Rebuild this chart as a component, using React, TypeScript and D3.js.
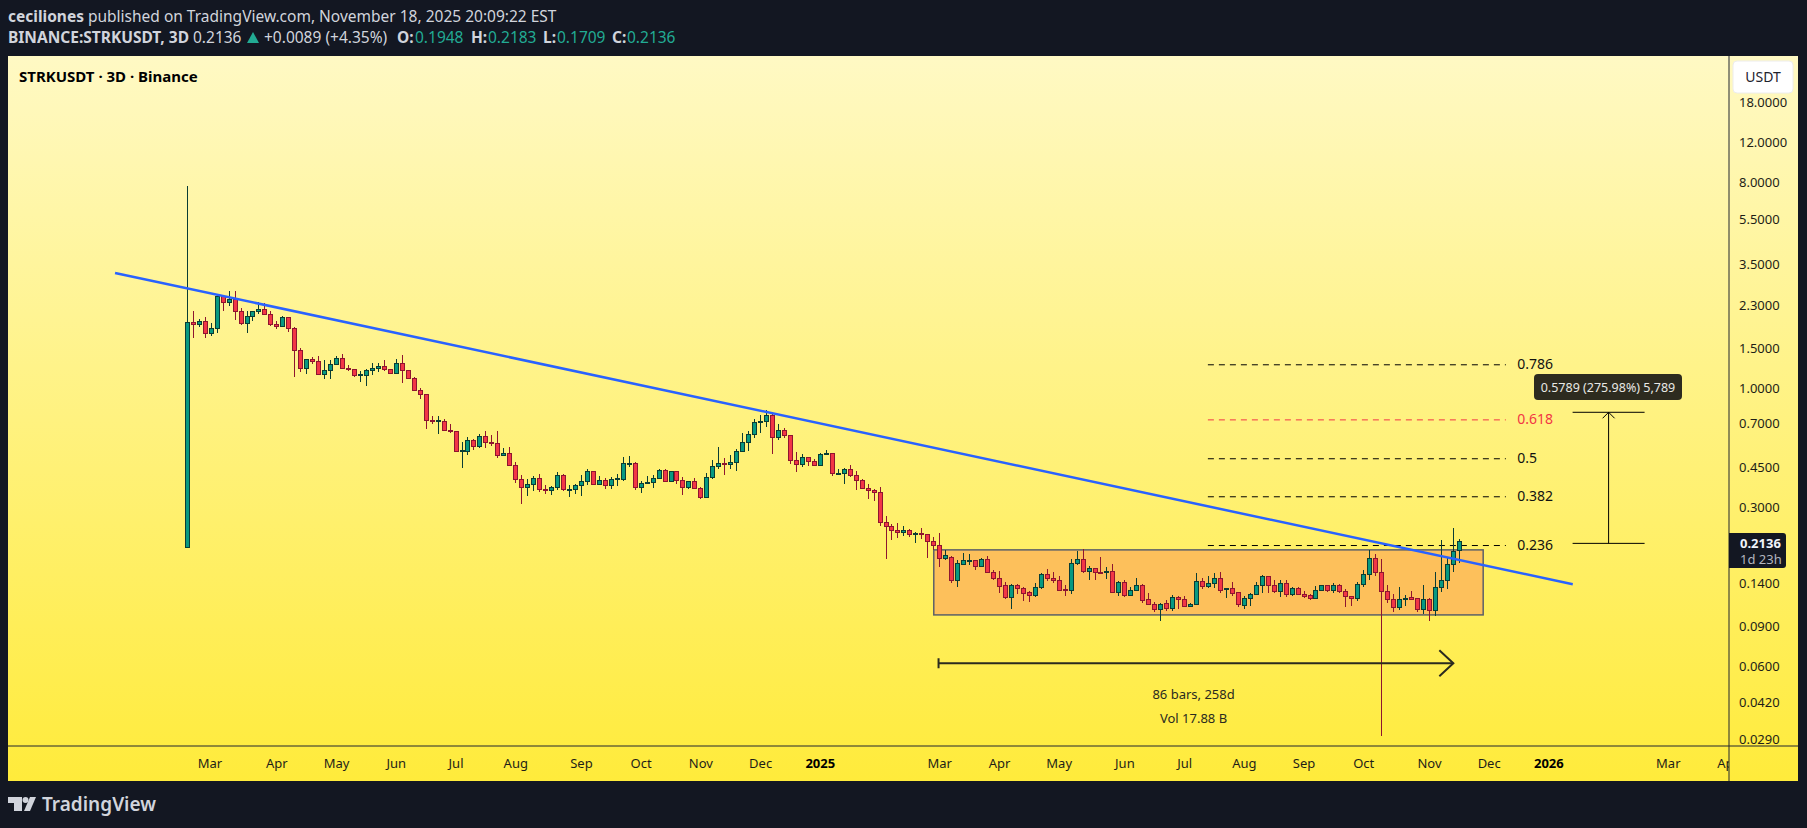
import * as d3 from "d3";
import React from "react";

const width = 1807;
const height = 828;

// 3D bars, index 0 is the listing candle
const opens = [
  0.201, 1.95, 1.9, 1.97, 1.74, 1.82, 2.53, 2.38, 2.46, 2.18,
  1.93, 2.07, 2.18, 2.22, 2.11, 1.91, 1.87, 2.05, 1.82, 1.47,
  1.22, 1.34, 1.31, 1.15, 1.2, 1.27, 1.35, 1.22, 1.21, 1.135,
  1.14, 1.2, 1.22, 1.25, 1.21, 1.165, 1.29, 1.2, 1.105, 0.98,
  0.935, 0.724, 0.714, 0.717, 0.654, 0.648, 0.532, 0.529, 0.591, 0.557,
  0.617, 0.58, 0.575, 0.508, 0.518, 0.46, 0.4, 0.368, 0.379, 0.404,
  0.36, 0.357, 0.368, 0.415, 0.358, 0.361, 0.376, 0.391, 0.432, 0.379,
  0.395, 0.376, 0.399, 0.4, 0.467, 0.469, 0.368, 0.383, 0.387, 0.404,
  0.436, 0.391, 0.432, 0.395, 0.368, 0.391, 0.364, 0.333, 0.408, 0.455,
  0.47, 0.464, 0.474, 0.529, 0.58, 0.629, 0.71, 0.717, 0.762, 0.61,
  0.654, 0.623, 0.484, 0.464, 0.495, 0.478, 0.461, 0.517, 0.518, 0.423,
  0.423, 0.441, 0.413, 0.395, 0.364, 0.357, 0.35, 0.258, 0.249, 0.238,
  0.234, 0.238, 0.229, 0.232, 0.229, 0.213, 0.205, 0.179, 0.182, 0.143,
  0.169, 0.174, 0.175, 0.1655, 0.178, 0.156, 0.147, 0.136, 0.121, 0.137,
  0.133, 0.127, 0.123, 0.134, 0.152, 0.147, 0.143, 0.131, 0.13, 0.171,
  0.178, 0.157, 0.162, 0.156, 0.155, 0.158, 0.1275, 0.141, 0.1235, 0.13,
  0.137, 0.119, 0.113, 0.1075, 0.114, 0.108, 0.121, 0.119, 0.111, 0.113,
  0.142, 0.135, 0.14, 0.147, 0.131, 0.132, 0.127, 0.1115, 0.12, 0.125,
  0.136, 0.15, 0.136, 0.129, 0.14, 0.125, 0.133, 0.125, 0.124, 0.1195,
  0.1305, 0.136, 0.13, 0.136, 0.128, 0.122, 0.1195, 0.138, 0.152, 0.18,
  0.156, 0.129, 0.118, 0.109, 0.119, 0.1205, 0.12, 0.1075, 0.118, 0.1065,
  0.134, 0.1435, 0.169, 0.1948,
];
const highs = [
  7.71, 2.18, 2.01, 2.05, 1.93, 2.57, 2.55, 2.66, 2.66, 2.24,
  2.18, 2.18, 2.38, 2.36, 2.18, 1.97, 2.07, 2.06, 1.85, 1.5,
  1.35, 1.37, 1.38, 1.33, 1.33, 1.38, 1.42, 1.27, 1.22, 1.19,
  1.21, 1.29, 1.29, 1.33, 1.22, 1.35, 1.4, 1.2, 1.12, 1.0,
  0.935, 0.756, 0.756, 0.731, 0.7, 0.648, 0.581, 0.61, 0.598, 0.629,
  0.648, 0.623, 0.648, 0.547, 0.553, 0.474, 0.415, 0.4, 0.411, 0.419,
  0.376, 0.372, 0.428, 0.419, 0.376, 0.379, 0.415, 0.441, 0.432, 0.411,
  0.404, 0.408, 0.419, 0.498, 0.505, 0.474, 0.391, 0.411, 0.415, 0.443,
  0.441, 0.432, 0.436, 0.408, 0.393, 0.404, 0.368, 0.424, 0.485, 0.551,
  0.495, 0.508, 0.54, 0.635, 0.648, 0.731, 0.762, 0.8, 0.777, 0.695,
  0.668, 0.623, 0.524, 0.513, 0.498, 0.49, 0.518, 0.534, 0.52, 0.443,
  0.447, 0.46, 0.436, 0.4, 0.379, 0.361, 0.368, 0.276, 0.253, 0.256,
  0.248, 0.241, 0.234, 0.245, 0.229, 0.222, 0.231, 0.196, 0.184, 0.176,
  0.19, 0.188, 0.176, 0.18, 0.184, 0.16, 0.158, 0.141, 0.138, 0.138,
  0.134, 0.129, 0.14, 0.155, 0.161, 0.156, 0.15, 0.137, 0.178, 0.194,
  0.197, 0.167, 0.163, 0.182, 0.164, 0.17, 0.143, 0.145, 0.135, 0.148,
  0.138, 0.127, 0.116, 0.114, 0.118, 0.124, 0.123, 0.1225, 0.114, 0.155,
  0.147, 0.15, 0.155, 0.156, 0.133, 0.141, 0.128, 0.1225, 0.127, 0.141,
  0.152, 0.151, 0.145, 0.144, 0.145, 0.134, 0.134, 0.129, 0.125, 0.136,
  0.137, 0.137, 0.14, 0.138, 0.132, 0.123, 0.142, 0.16, 0.195, 0.187,
  0.178, 0.137, 0.125, 0.134, 0.124, 0.129, 0.1205, 0.137, 0.12, 0.156,
  0.2155, 0.1825, 0.245, 0.2183,
];
const lows = [
  0.201, 1.67, 1.86, 1.67, 1.7, 1.74, 2.19, 2.3, 1.99, 1.9,
  1.75, 1.98, 2.12, 2.1, 1.88, 1.82, 1.86, 1.77, 1.12, 1.18,
  1.15, 1.28, 1.14, 1.1, 1.1, 1.27, 1.21, 1.19, 1.12, 1.07,
  1.02, 1.14, 1.18, 1.19, 1.16, 1.16, 1.06, 1.1, 0.977, 0.902,
  0.664, 0.695, 0.633, 0.652, 0.635, 0.526, 0.449, 0.51, 0.536, 0.549,
  0.549, 0.56, 0.496, 0.505, 0.457, 0.385, 0.312, 0.338, 0.355, 0.352,
  0.345, 0.341, 0.359, 0.355, 0.335, 0.345, 0.338, 0.378, 0.376, 0.376,
  0.362, 0.362, 0.373, 0.391, 0.452, 0.359, 0.348, 0.381, 0.365, 0.4,
  0.387, 0.387, 0.381, 0.341, 0.361, 0.361, 0.328, 0.332, 0.4, 0.445,
  0.418, 0.441, 0.435, 0.526, 0.532, 0.607, 0.64, 0.678, 0.516, 0.591,
  0.603, 0.464, 0.428, 0.452, 0.457, 0.457, 0.457, 0.508, 0.413, 0.421,
  0.381, 0.408, 0.359, 0.362, 0.328, 0.321, 0.25, 0.178, 0.217, 0.221,
  0.226, 0.222, 0.209, 0.218, 0.181, 0.196, 0.164, 0.177, 0.14, 0.135,
  0.168, 0.168, 0.159, 0.165, 0.155, 0.145, 0.127, 0.119, 0.108, 0.125,
  0.117, 0.116, 0.122, 0.132, 0.143, 0.14, 0.129, 0.123, 0.125, 0.168,
  0.155, 0.145, 0.145, 0.153, 0.146, 0.127, 0.123, 0.122, 0.123, 0.129,
  0.115, 0.112, 0.105, 0.0957, 0.106, 0.106, 0.108, 0.11, 0.11, 0.112,
  0.132, 0.133, 0.133, 0.126, 0.121, 0.123, 0.11, 0.108, 0.111, 0.124,
  0.127, 0.127, 0.127, 0.122, 0.122, 0.123, 0.124, 0.12, 0.118, 0.119,
  0.129, 0.128, 0.127, 0.127, 0.11, 0.111, 0.1165, 0.135, 0.145, 0.151,
  0.0298, 0.115, 0.105, 0.107, 0.111, 0.118, 0.105, 0.102, 0.095, 0.1,
  0.128, 0.132, 0.157, 0.1709,
];
const closes = [
  1.95, 1.91, 1.97, 1.74, 1.83, 2.53, 2.38, 2.46, 2.18, 1.92,
  2.07, 2.18, 2.22, 2.11, 1.91, 1.87, 2.05, 1.82, 1.47, 1.22,
  1.34, 1.31, 1.15, 1.2, 1.27, 1.35, 1.22, 1.21, 1.14, 1.145,
  1.2, 1.22, 1.25, 1.21, 1.165, 1.29, 1.2, 1.105, 0.98, 0.935,
  0.724, 0.714, 0.72, 0.654, 0.648, 0.529, 0.536, 0.591, 0.557, 0.617,
  0.58, 0.571, 0.508, 0.518, 0.46, 0.4, 0.368, 0.379, 0.404, 0.361,
  0.355, 0.368, 0.415, 0.361, 0.36, 0.376, 0.391, 0.432, 0.379, 0.395,
  0.376, 0.4, 0.402, 0.469, 0.47, 0.368, 0.383, 0.387, 0.404, 0.436,
  0.391, 0.432, 0.395, 0.368, 0.391, 0.364, 0.333, 0.408, 0.455, 0.469,
  0.466, 0.474, 0.529, 0.58, 0.629, 0.71, 0.717, 0.762, 0.61, 0.654,
  0.623, 0.484, 0.464, 0.495, 0.478, 0.461, 0.513, 0.52, 0.424, 0.425,
  0.441, 0.413, 0.395, 0.364, 0.357, 0.35, 0.259, 0.249, 0.238, 0.234,
  0.238, 0.229, 0.23, 0.229, 0.212, 0.204, 0.179, 0.184, 0.143, 0.17,
  0.175, 0.175, 0.1655, 0.178, 0.156, 0.146, 0.135, 0.121, 0.137, 0.132,
  0.126, 0.123, 0.134, 0.152, 0.146, 0.143, 0.13, 0.13, 0.171, 0.178,
  0.157, 0.162, 0.155, 0.155, 0.158, 0.1275, 0.141, 0.1235, 0.1305, 0.137,
  0.117, 0.113, 0.1075, 0.113, 0.108, 0.121, 0.119, 0.111, 0.113, 0.142,
  0.135, 0.14, 0.147, 0.1305, 0.132, 0.126, 0.1125, 0.12, 0.125, 0.136,
  0.15, 0.136, 0.129, 0.14, 0.125, 0.133, 0.125, 0.122, 0.1195, 0.1305,
  0.136, 0.1305, 0.136, 0.128, 0.122, 0.1195, 0.138, 0.152, 0.18, 0.156,
  0.129, 0.118, 0.109, 0.119, 0.12, 0.119, 0.1075, 0.118, 0.1065, 0.134,
  0.1435, 0.169, 0.193, 0.2136,
];

const priceTicks = [18, 12, 8, 5.5, 3.5, 2.3, 1.5, 1, 0.7, 0.45, 0.3, 0.14, 0.09, 0.06, 0.042, 0.029];
const timeLabels = ["Mar", "Apr", "May", "Jun", "Jul", "Aug", "Sep", "Oct", "Nov", "Dec", "2025", "Mar", "Apr", "May", "Jun", "Jul", "Aug", "Sep", "Oct", "Nov", "Dec", "2026", "Mar", "Apr"];
const timeBars = [3.8, 15, 25, 35, 45, 55, 66, 76, 86, 96, 106, 126, 136, 146, 157, 167, 177, 187, 197, 208, 218, 228, 248, 258];

const fibLabels = ["0.786", "0.618", "0.5", "0.382", "0.236"];
const fibPrices = [1.268, 0.727, 0.491, 0.3345, 0.2045];

const trendBars = [-12.1, 232];
const trendPrices = [3.204, 0.1384];

const font = "'Noto Sans', sans-serif";

const x = d3.scaleLinear().domain([0, 213]).range([187.3, 1459.3]);
const y = d3.scaleLog().domain([18, 0.029]).range([102, 739]);

const trendLine = d3.line<number>()
    .x(b => x(b))
    .y((_, i) => y(trendPrices[i]));

const bars = d3.range(opens.length);

const App: React.FC = () => {
    const bottom = 746;
    const axisX = 1729;
    const rangeY = y(0.0623);
    const rangeL = x(125.8);
    const rangeR = x(212);
    const measureTop = y(0.785);
    const measureBottom = y(0.209);
    const measureX = x(238);

    return (
        <svg width={width} height={height} style={{ position: "absolute", left: 0, top: 0, display: "block", fontFamily: font }}>
            <defs>
                <linearGradient id="bg" x1="0" y1="0" x2="0" y2="1">
                    <stop offset="0" stopColor="#fff9c4" />
                    <stop offset="1" stopColor="#ffeb3b" />
                </linearGradient>
                <clipPath id="pane">
                    <rect x={8} y={56} width={axisX - 8} height={bottom - 56} />
                </clipPath>
                <clipPath id="timeAxis">
                    <rect x={8} y={bottom} width={axisX - 8} height={781 - bottom} />
                </clipPath>
                <clipPath id="priceAxis">
                    <rect x={axisX} y={98} width={69} height={bottom - 98} />
                </clipPath>
            </defs>
            <rect width={width} height={height} fill="#131722" />

            <text x={8} y={21.5} fontSize={15.5} fill="#d1d4dc">
                <tspan fontWeight={700}>ceciliones</tspan>
                <tspan dx={4}>published on TradingView.com, November 18, 2025 20:09:22 EST</tspan>
            </text>
            <text y={43} fontSize={15.5} fill="#d1d4dc">
                <tspan x={8} fontWeight={700}>BINANCE:STRKUSDT, 3D</tspan>
                <tspan x={193}>0.2136</tspan>
                <tspan x={264}>+0.0089 (+4.35%)</tspan>
                <tspan x={397} fontWeight={700}>O:</tspan>
                <tspan x={415} fill="#22ab94">0.1948</tspan>
                <tspan x={471} fontWeight={700}>H:</tspan>
                <tspan x={488} fill="#22ab94">0.2183</tspan>
                <tspan x={543} fontWeight={700}>L:</tspan>
                <tspan x={557} fill="#22ab94">0.1709</tspan>
                <tspan x={612} fontWeight={700}>C:</tspan>
                <tspan x={627} fill="#22ab94">0.2136</tspan>
            </text>
            <path d="M253 32L259 43H247Z" fill="#22ab94" />

            <rect x={8} y={56} width={1790} height={725} fill="url(#bg)" />

            <text x={19} y={81.5} fontSize={15} fontWeight={700} fill="#000">STRKUSDT · 3D · Binance</text>

            <g clipPath="url(#pane)">
                <rect
                    x={x(125)}
                    y={y(0.1957)}
                    width={x(217) - x(125)}
                    height={y(0.1015) - y(0.1957)}
                    fill="#fdc05b"
                    stroke="#5d6068"
                    strokeWidth={1.5}
                />

                {fibPrices.map((p, i) => (
                    <line
                        key={fibLabels[i]}
                        x1={x(170.9)}
                        x2={x(220.8)}
                        y1={y(p)}
                        y2={y(p)}
                        stroke={fibLabels[i] === "0.618" ? "#f23645" : "#000"}
                        strokeDasharray="6 5"
                    />
                ))}

                {bars.map(i => {
                    const up = closes[i] >= opens[i];
                    const edge = up ? "#0a3d34" : "#8e1530";
                    const top = y(Math.max(opens[i], closes[i]));
                    const low = y(Math.min(opens[i], closes[i]));
                    return (
                        <g key={i} shapeRendering="crispEdges">
                            <line x1={x(i)} x2={x(i)} y1={y(highs[i])} y2={y(lows[i])} stroke={edge} />
                            <rect
                                x={x(i) - 2}
                                y={top}
                                width={4}
                                height={Math.max(low - top, 1)}
                                fill={up ? "#089981" : "#f23645"}
                                stroke={edge}
                            />
                        </g>
                    );
                })}

                <path d={trendLine(trendBars)!} fill="none" stroke="#2962ff" strokeWidth={2.5} />

                <g stroke="#2a2a1f" strokeWidth={2} fill="none">
                    <line x1={rangeL} x2={rangeR} y1={rangeY} y2={rangeY} />
                    <line x1={rangeL} x2={rangeL} y1={rangeY - 5} y2={rangeY + 5} />
                    <path d={`M${rangeR - 14} ${rangeY - 13}L${rangeR} ${rangeY}L${rangeR - 14} ${rangeY + 13}`} />
                </g>
                <text x={x(168.5)} y={698.5} fontSize={13} textAnchor="middle" fill="#2a2a1f">86 bars, 258d</text>
                <text x={x(168.5)} y={722.5} fontSize={13} textAnchor="middle" fill="#2a2a1f">Vol 17.88 B</text>

                {fibPrices.map((p, i) => (
                    <text
                        key={fibLabels[i]}
                        x={x(222.7)}
                        y={y(p) + 4}
                        fontSize={14}
                        fill={fibLabels[i] === "0.618" ? "#f23645" : "#111"}
                    >
                        {fibLabels[i]}
                    </text>
                ))}

                <g stroke="#000" fill="none">
                    <line x1={measureX - 36} x2={measureX + 36} y1={measureTop} y2={measureTop} />
                    <line x1={measureX - 36} x2={measureX + 36} y1={measureBottom} y2={measureBottom} />
                    <line x1={measureX} x2={measureX} y1={measureTop} y2={measureBottom} />
                    <path d={`M${measureX - 6} ${measureTop + 6}L${measureX} ${measureTop}L${measureX + 6} ${measureTop + 6}`} />
                </g>
                <rect x={1534} y={374} width={148} height={26} rx={4} fill="#2d2b1f" />
                <text x={1608} y={391.5} fontSize={12.5} textAnchor="middle" fill="#e8e8e4">0.5789 (275.98%) 5,789</text>
            </g>

            <line x1={8} x2={1798} y1={bottom} y2={bottom} stroke="#20242e" />
            <line x1={axisX} x2={axisX} y1={56} y2={781} stroke="#20242e" />

            <g clipPath="url(#timeAxis)">
                {timeLabels.map((t, i) => (
                    <text
                        key={i}
                        x={x(timeBars[i])}
                        y={767.5}
                        fontSize={13}
                        textAnchor="middle"
                        fontWeight={t.length === 4 ? 700 : 400}
                        fill={t.length === 4 ? "#000" : "#1e1e17"}
                    >
                        {t}
                    </text>
                ))}
            </g>

            <g clipPath="url(#priceAxis)">
                {priceTicks.map(t => (
                    <text key={t} x={1739} y={y(t) + 4.5} fontSize={13} fill="#1e1e17">{t.toFixed(4)}</text>
                ))}
            </g>

            <rect x={1733} y={61} width={60} height={32} rx={4} fill="#fff" stroke="#ececec" />
            <text x={1763} y={81.5} fontSize={14} textAnchor="middle" fill="#1e222d">USDT</text>

            <path d="M1729 533H1783a3 3 0 0 1 3 3V565a3 3 0 0 1 -3 3H1729Z" fill="#131722" />
            <text x={1740} y={548} fontSize={13} fontWeight={700} fill="#f0f3fa">0.2136</text>
            <text x={1740} y={564} fontSize={13} fill="#b2b5be">1d 23h</text>

            <g fill="#d1d4dc">
                <path d="M8 797H22V811H14V803H8Z" />
                <circle cx={25.5} cy={800} r={3} />
                <path d="M30 797H36L30 811H24Z" />
                <text x={42} y={811} fontSize={19} fontWeight={600}>TradingView</text>
            </g>
        </svg>
    );
};

export default App;
